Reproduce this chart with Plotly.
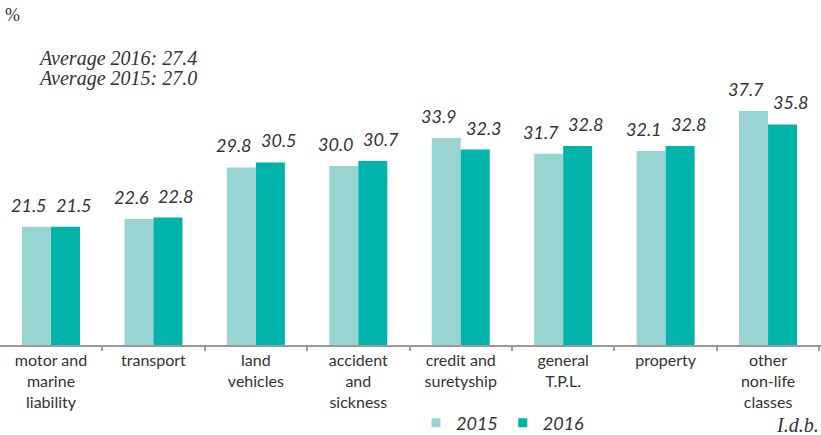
import plotly.graph_objects as go

categories = ["motor and<br>marine<br>liability", "transport", "land<br>vehicles",
              "accident<br>and<br>sickness", "credit and<br>suretyship", "general<br>T.P.L.",
              "property", "other<br>non-life<br>classes"]
values_2015 = [21.5, 22.6, 29.8, 30.0, 33.9, 31.7, 32.1, 37.7]
values_2016 = [21.5, 22.8, 30.5, 30.7, 32.3, 32.8, 32.8, 35.8]
series_names = ["2015", "2016"]
average_lines = ["Average 2016: 27.4", "Average 2015: 27.0"]

W, H = 821, 435
T, B = 40, 90
PLOT_TOP, PLOT_BOT = T, H - B


def py(pixel_y):
    # convert a figure pixel row to paper coordinates of the plot area
    return (PLOT_BOT - pixel_y) / (PLOT_BOT - PLOT_TOP)


C15 = "#98D4D1"
C16 = "#00B4AC"
SANS = "Lato, 'Noto Sans', sans-serif"
SERIF = "'Liberation Serif', 'DejaVu Serif', serif"
TXT = "#333333"

fig = go.Figure()
for name, vals, col in [(series_names[0], values_2015, C15), (series_names[1], values_2016, C16)]:
    fig.add_trace(go.Bar(x=categories, y=vals, name=name, marker_color=col,
                         marker_line_width=0, showlegend=False))
    fig.add_trace(go.Scatter(x=[None], y=[None], mode="markers", name=name,
                             marker=dict(symbol="square", size=9, color=col)))

ann = []
for i, c in enumerate(categories):
    for vals, xs in [(values_2015, -22), (values_2016, 23)]:
        ann.append(dict(x=c, y=vals[i], text=f"{vals[i]:.1f}", showarrow=False,
                        xref="x", yref="y", xshift=xs, yshift=9, yanchor="bottom",
                        font=dict(family=SANS, size=18, color=TXT, style="italic")))

for i, t in enumerate(average_lines):
    ann.append(dict(x=36 / W, y=py(58 + 21 * i), text=t, xref="paper", yref="paper",
                    showarrow=False, xanchor="left", yanchor="middle",
                    font=dict(family=SERIF, size=20, color=TXT, style="italic")))
ann.append(dict(x=3 / W, y=py(15), text="%", xref="paper", yref="paper", showarrow=False,
                xanchor="left", yanchor="middle", font=dict(family=SERIF, size=18, color=TXT)))
ann.append(dict(x=1.0, y=py(425), text="I.d.b.", xref="paper", yref="paper", showarrow=False,
                xanchor="right", yanchor="middle",
                font=dict(family=SERIF, size=20, color=TXT, style="italic")))

fig.update_layout(
    width=W, height=H,
    margin=dict(l=0, r=0, t=T, b=B, autoexpand=False),
    paper_bgcolor="white", plot_bgcolor="white",
    barmode="group", bargap=0.434, bargroupgap=0,
    annotations=ann,
    legend=dict(orientation="h", x=416 / W, y=1 - 423 / H, xref="container", yref="container",
                xanchor="left", yanchor="middle",
                font=dict(family=SANS, size=18, color=TXT, style="italic"),
                itemwidth=30, bgcolor="rgba(0,0,0,0)"),
    xaxis=dict(type="category", range=[-0.498, 7.517], showline=True, linecolor="#9a9a9a",
               linewidth=1.5, ticks="outside", tickson="boundaries", ticklen=4,
               tickcolor="#9a9a9a", tickwidth=1.5, showgrid=False, automargin=False,
               tickfont=dict(family=SANS, size=16, color=TXT)),
    yaxis=dict(range=[5.0, 47.6], visible=False, showgrid=False, zeroline=False),
)

fig.write_html("out.html", config={"displayModeBar": False},
               post_script="document.body.style.margin='0px';")
